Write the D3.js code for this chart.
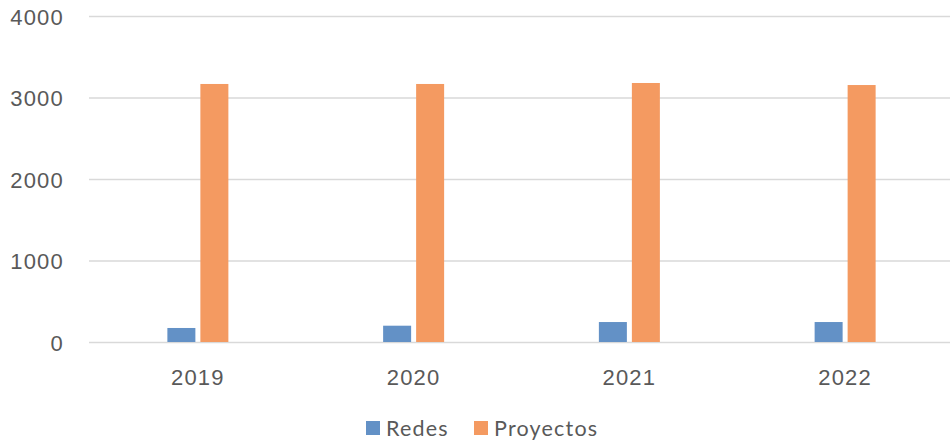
<!DOCTYPE html>
<html>
<head>
<meta charset="utf-8">
<script src="https://cdn.jsdelivr.net/npm/d3@7"></script>
<style>
  body { margin: 0; background: #fff; }
  svg { display: block; font-family: Lato, 'Noto Sans', sans-serif; letter-spacing: 1.2px; }
</style>
</head>
<body>
<svg id="chart" width="950" height="444"></svg>
<script>
const years = ['2019', '2020', '2021', '2022'];
const seriesNames = ['Redes', 'Proyectos'];
const redes = [172, 200, 245, 245];
const proyectos = [3166, 3166, 3178, 3153];
const yTicks = [0, 1000, 2000, 3000, 4000];
const colors = ['#6391c6', '#f49a61'];

const width = 950;
const height = 444;
const margin = {top: 16, right: -3, bottom: 102, left: 90};

const svg = d3.select('#chart');
const textColor = '#595959';

const x = d3
  .scaleBand()
  .domain(years)
  .range([margin.left, width - margin.right]);
const x1 = d3
  .scaleBand()
  .domain(seriesNames)
  .range([-30.5, 30.5])
  .paddingInner(5 / 33);
const y = d3
  .scaleLinear()
  .domain([0, 4000])
  .range([height - margin.bottom, margin.top]);

// gridlines + y labels
const yAxis = svg
  .append('g')
  .attr('transform', `translate(${margin.left - 1},0)`)
  .call(d3.axisRight(y).tickValues(yTicks).tickSize(width - margin.left + 1).tickFormat(d3.format('d')));
yAxis.select('.domain').remove();
yAxis.selectAll('line').attr('stroke', '#d9d9d9').attr('stroke-width', 1.3);
yAxis
  .selectAll('text')
  .attr('x', -25)
  .attr('dy', '0.38em')
  .attr('text-anchor', 'end')
  .attr('fill', textColor)
  .style('font-size', '22px');

// bars
const data = years.map((yr, i) => ({year: yr, values: [redes[i], proyectos[i]]}));
const groups = svg
  .append('g')
  .selectAll('g')
  .data(data)
  .join('g')
  .attr('transform', (d) => `translate(${x(d.year) + x.bandwidth() / 2},0)`);

groups
  .selectAll('rect')
  .data((d) => d.values.map((v, j) => ({name: seriesNames[j], value: v, color: colors[j]})))
  .join('rect')
  .attr('x', (d) => x1(d.name))
  .attr('width', x1.bandwidth())
  .attr('y', (d) => y(d.value))
  .attr('height', (d) => y(0) - y(d.value))
  .attr('fill', (d) => d.color);

// x labels
const xAxis = svg
  .append('g')
  .attr('transform', `translate(0,${y(0)})`)
  .call(d3.axisBottom(x).tickSize(0));
xAxis.select('.domain').remove();
xAxis
  .selectAll('text')
  .attr('y', 0)
  .attr('dy', 43)
  .attr('fill', textColor)
  .style('font-size', '22px');

// legend
const legend = svg.append('g').attr('transform', 'translate(366,421)');
const legendX = [0, 108];
seriesNames.forEach((name, i) => {
  const item = legend.append('g').attr('transform', `translate(${legendX[i]},0)`);
  item.append('rect').attr('width', 14).attr('height', 14).attr('fill', colors[i]);
  item
    .append('text')
    .attr('x', 20)
    .attr('y', 14.5)
    .attr('fill', textColor)
    .style('font-size', '21.5px')
    .text(name);
});
</script>
</body>
</html>
